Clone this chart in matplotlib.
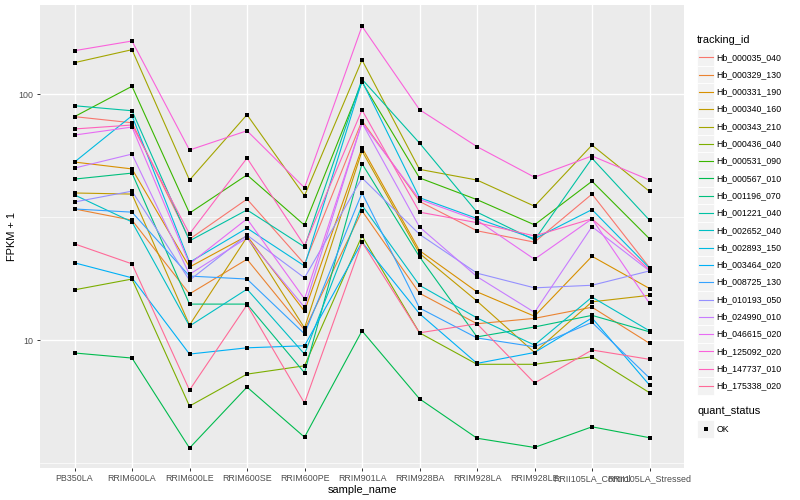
import matplotlib
matplotlib.use("Agg")
import matplotlib.pyplot as plt
from matplotlib.patches import Rectangle
from matplotlib.lines import Line2D
import numpy as np

# Proben (x-Achse)
samples = [
    "PB350LA", "RRIM600LA", "RRIM600LE", "RRIM600SE", "RRIM600PE", "RRIM901LA",
    "RRIM928BA", "RRIM928LA", "RRIM928LE", "RRII105LA_Control", "RRII105LA_Stressed",
]

tracking_ids = [
    "Hb_000035_040", "Hb_000329_130", "Hb_000331_190", "Hb_000340_160",
    "Hb_000343_210", "Hb_000436_040", "Hb_000531_090", "Hb_000567_010",
    "Hb_001196_070", "Hb_001221_040", "Hb_002652_040", "Hb_002893_150",
    "Hb_003464_020", "Hb_008725_130", "Hb_010193_050", "Hb_024990_010",
    "Hb_046615_020", "Hb_125092_020", "Hb_147737_010", "Hb_175338_020",
]

# FPKM + 1 je Gen, Reihenfolge wie samples
hb_000035_040 = [80.9, 76.4, 25.7, 37.4, 20.4, 77.9, 36.6, 27.8, 25.0, 39.2, 19.7]
hb_000329_130 = [34.1, 30.7, 15.4, 21.3, 11.0, 33.5, 15.5, 11.65, 12.25, 13.6, 9.7]
hb_000331_190 = [52.9, 49.6, 19.8, 26.5, 13.1, 60.5, 23.1, 15.7, 12.5, 21.9, 16.2]
hb_000340_160 = [39.6, 39.2, 11.5, 26.2, 11.2, 58.7, 22.5, 14.4, 8.9, 14.3, 15.2]
hb_000343_210 = [134.1, 151.4, 44.7, 82.4, 38.6, 137.5, 49.4, 44.7, 35.0, 62.0, 40.2]
hb_000436_040 = [16.0, 17.7, 5.39, 7.27, 7.86, 26.5, 10.7, 7.97, 7.97, 8.55, 6.11]
hb_000531_090 = [80.9, 107.5, 32.8, 46.9, 29.3, 111.9, 45.6, 37.2, 29.4, 44.2, 25.8]
hb_000567_010 = [8.86, 8.45, 3.64, 6.44, 4.03, 10.9, 5.77, 3.99, 3.66, 4.44, 4.01]
hb_001196_070 = [45.1, 47.7, 14.0, 14.0, 7.36, 52.1, 21.8, 10.3, 11.3, 12.6, 10.8]
hb_001221_040 = [89.6, 85.5, 25.3, 33.8, 23.9, 114.8, 63.2, 33.1, 25.5, 54.8, 30.7]
hb_002652_040 = [38.9, 30.2, 11.4, 16.1, 8.77, 35.3, 16.7, 12.3, 9.54, 14.95, 10.9]
hb_002893_150 = [52.9, 81.6, 20.7, 28.5, 20.0, 112.9, 37.9, 31.2, 25.8, 33.9, 19.6]
hb_003464_020 = [20.6, 17.9, 8.77, 9.3, 9.48, 25.0, 12.8, 8.04, 8.9, 12.3, 6.56]
hb_008725_130 = [34.1, 33.1, 18.2, 17.7, 10.6, 39.6, 13.5, 10.2, 9.39, 11.8, 7.01]
hb_010193_050 = [36.4, 40.3, 17.5, 26.7, 17.9, 45.6, 26.9, 18.7, 16.3, 16.7, 19.1]
hb_024990_010 = [50.0, 57.0, 18.5, 26.0, 13.6, 76.4, 28.8, 18.1, 12.96, 28.9, 19.1]
hb_046615_020 = [68.1, 73.4, 20.4, 31.1, 14.7, 76.4, 37.3, 30.7, 21.3, 31.1, 14.1]
hb_125092_020 = [150.0, 164.2, 59.2, 70.9, 41.6, 188.5, 86.4, 61.1, 45.9, 56.0, 44.7]
hb_147737_010 = [72.1, 74.8, 27.0, 54.9, 24.2, 86.1, 33.1, 30.0, 26.5, 31.1, 19.3]
hb_175338_020 = [24.6, 20.4, 6.26, 13.9, 5.54, 25.0, 10.7, 11.65, 6.69, 9.11, 8.35]

series = [
    hb_000035_040, hb_000329_130, hb_000331_190, hb_000340_160, hb_000343_210,
    hb_000436_040, hb_000531_090, hb_000567_010, hb_001196_070, hb_001221_040,
    hb_002652_040, hb_002893_150, hb_003464_020, hb_008725_130, hb_010193_050,
    hb_024990_010, hb_046615_020, hb_125092_020, hb_147737_010, hb_175338_020,
]


def hue_pal(n, c=100, l=65):
    """ggplot2-Standardfarben (HCL-Kreis) nach sRGB."""
    hues = np.linspace(15, 375, n + 1)[:-1]
    xn, yn, zn = 0.95047, 1.0, 1.08883
    un = 4 * xn / (xn + 15 * yn + 3 * zn)
    vn = 9 * yn / (xn + 15 * yn + 3 * zn)
    y = yn * ((l + 16) / 116) ** 3
    colors = []
    for h in hues:
        u = c * np.cos(np.radians(h))
        v = c * np.sin(np.radians(h))
        up = u / (13 * l) + un
        vp = v / (13 * l) + vn
        x = y * 9 * up / (4 * vp)
        z = y * (12 - 3 * up - 20 * vp) / (4 * vp)
        rgb = np.array([
            3.2404542 * x - 1.5371385 * y - 0.4985314 * z,
            -0.9692660 * x + 1.8760108 * y + 0.0415560 * z,
            0.0556434 * x - 0.2040259 * y + 1.0572252 * z,
        ])
        rgb = np.where(rgb <= 0.0031308, 12.92 * rgb, 1.055 * np.abs(rgb) ** (1 / 2.4) - 0.055)
        colors.append(tuple(np.clip(rgb, 0, 1)))
    return colors


colors = hue_pal(len(tracking_ids))

plt.rcParams["font.family"] = ["Liberation Sans", "DejaVu Sans"]

fig = plt.figure(figsize=(8, 5), dpi=100)
ax = fig.add_axes([40 / 800, 1 - 468 / 500, 644 / 800, 463 / 500])
ax.set_facecolor("#EBEBEB")

x = np.arange(len(samples))

# Linien je Gen, danach alle Punkte oben drauf
for values, col in zip(series, colors):
    ax.plot(x, values, color=col, linewidth=0.8, zorder=3)
for values in series:
    ax.plot(x, values, linestyle="none", marker="s", markersize=2.8,
            markeredgewidth=0, color="black", zorder=4)

ax.set_yscale("log")
ax.set_ylim(3.02, 230)
ax.set_xlim(-0.6, len(samples) - 0.4)

ax.set_yticks([10, 100])
ax.set_yticklabels(["10", "100"])
ax.set_yticks([10 ** 0.5, 10 ** 1.5], minor=True)
ax.yaxis.set_minor_formatter(plt.NullFormatter())
ax.set_xticks(x)
ax.set_xticklabels(samples)

ax.grid(True, which="major", color="white", linewidth=1.0, zorder=1)
ax.grid(True, which="minor", axis="y", color="white", linewidth=0.5, zorder=1)
ax.set_axisbelow(True)
for spine in ax.spines.values():
    spine.set_visible(False)

ax.tick_params(axis="both", which="major", length=2.5, width=0.7, color="#333333",
               labelsize=6.4, labelcolor="#4D4D4D", pad=2)
ax.tick_params(axis="y", which="minor", length=0)

ax.set_xlabel("sample_name", fontsize=7.9, labelpad=1)
ax.set_ylabel("FPKM + 1", fontsize=7.9, va="center")
ax.yaxis.set_label_coords(-28 / 644, 0.5)


# Legende per Hand, Pixelkoordinaten von oben links
def fx(px):
    return px / 800


def fy(py):
    return 1 - py / 500


fig.text(fx(697), fy(40), "tracking_id", fontsize=7.9, va="center", ha="left")
key = 17.3
for i, (name, col) in enumerate(zip(tracking_ids, colors)):
    cy = 57.3 + i * key
    fig.add_artist(Rectangle((fx(697), fy(cy + key / 2)), key / 800, key / 500,
                             facecolor="#F2F2F2", edgecolor="white", linewidth=0.6,
                             transform=fig.transFigure))
    fig.add_artist(Line2D([fx(698.5), fx(712.5)], [fy(cy), fy(cy)], color=col,
                          linewidth=0.8, transform=fig.transFigure))
    fig.text(fx(716.7), fy(cy), name, fontsize=6.3, va="center", ha="left")

fig.text(fx(697), fy(411.5), "quant_status", fontsize=7.9, va="center", ha="left")
fig.add_artist(Rectangle((fx(697), fy(429 + key / 2)), key / 800, key / 500,
                         facecolor="#F2F2F2", edgecolor="white", linewidth=0.6,
                         transform=fig.transFigure))
fig.add_artist(Line2D([fx(705.6)], [fy(429)], marker="s", markersize=2.8,
                      markeredgewidth=0, color="black", linestyle="none",
                      transform=fig.transFigure))
fig.text(fx(716.7), fy(429), "OK", fontsize=6.3, va="center", ha="left")

fig.savefig("out.png", dpi=100)
